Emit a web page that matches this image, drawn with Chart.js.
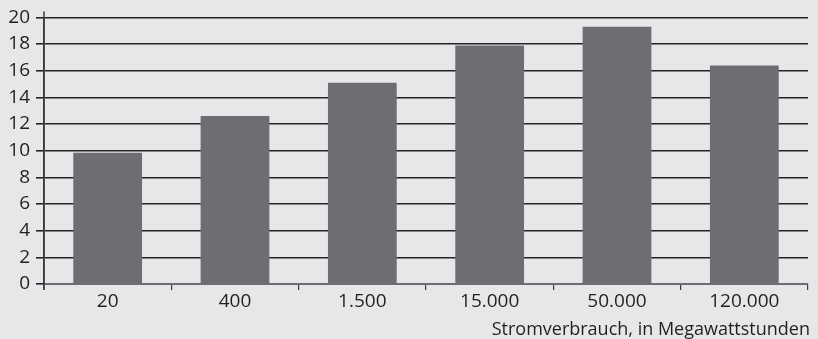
<!DOCTYPE html>
<html>
<head>
<meta charset="utf-8">
<script src="https://cdn.jsdelivr.net/npm/chart.js@4/dist/chart.umd.min.js"></script>
<style>
  html, body { margin: 0; padding: 0; background: #e6e7e9; overflow: hidden; }
  #c { display: block; }
</style>
</head>
<body>
<canvas id="c" width="818" height="339"></canvas>
<script>
// Stromverbrauch-Klassen (MWh) und zugehörige Werte
const categories = ['20', '400', '1.500', '15.000', '50.000', '120.000'];
const values = [9.85, 12.6, 15.1, 17.9, 19.3, 16.4];
const yTicks = [0, 2, 4, 6, 8, 10, 12, 14, 16, 18, 20];
const axisTitle = 'Stromverbrauch, in Megawattstunden';

const FONT = '"Open Sans", "Noto Sans", sans-serif';
const INK = '#231f20';
const BAR = '#6d6e71';

// Achsentitel rechtsbündig unter den Kategorien
const titlePlugin = {
  id: 'axisTitleRight',
  afterDraw(chart) {
    const ctx = chart.ctx;
    ctx.save();
    ctx.font = '18px ' + FONT;
    ctx.fillStyle = INK;
    ctx.textAlign = 'right';
    ctx.textBaseline = 'alphabetic';
    ctx.fillText(axisTitle, chart.width - 8, 335);
    ctx.restore();
  }
};

// Y-Achse etwas über den Diagrammbereich hinaus verlängern
const axisExtend = {
  id: 'axisExtend',
  afterDraw(chart) {
    const a = chart.chartArea, ctx = chart.ctx;
    ctx.save();
    ctx.strokeStyle = '#3a3a3c';
    ctx.lineWidth = 1.5;
    ctx.beginPath();
    ctx.moveTo(a.left, a.top - 6);
    ctx.lineTo(a.left, a.bottom + 6);
    ctx.stroke();
    ctx.restore();
  }
};

new Chart(document.getElementById('c'), {
  type: 'bar',
  data: {
    labels: categories,
    datasets: [{
      data: values,
      backgroundColor: BAR,
      borderWidth: 0,
      barPercentage: 0.54,
      categoryPercentage: 1.0
    }]
  },
  options: {
    responsive: false,
    maintainAspectRatio: false,
    animation: false,
    devicePixelRatio: 1,
    layout: { padding: { top: 16, right: 10, left: 0, bottom: 0 } },
    plugins: { legend: { display: false }, tooltip: { enabled: false } },
    scales: {
      x: {
        offset: true,
        afterFit(s) { s.height = 55; },
        grid: {
          offset: true,
          drawOnChartArea: false,
          drawTicks: true,
          tickLength: 6,
          color: '#3a3a3c',
          lineWidth: 1.2
        },
        border: { display: true, color: BAR, width: 2 },
        ticks: {
          color: INK,
          font: { family: FONT, size: 19 },
          padding: 0,
          maxRotation: 0,
          autoSkip: false
        }
      },
      y: {
        min: 0,
        max: 20,
        afterFit(s) { s.width = 44; },
        afterBuildTicks(s) { s.ticks = yTicks.map(v => ({ value: v })); },
        grid: {
          color: ctx => ctx.tick && ctx.tick.value === 0 ? BAR : '#252325',
          lineWidth: 1.6,
          drawTicks: true,
          tickLength: 8,
          tickColor: '#252325'
        },
        border: { display: true, color: '#3a3a3c', width: 1.5 },
        ticks: {
          color: INK,
          font: { family: FONT, size: 19 },
          padding: 6,
          autoSkip: false
        }
      }
    }
  },
  plugins: [titlePlugin, axisExtend]
});
</script>
</body>
</html>
